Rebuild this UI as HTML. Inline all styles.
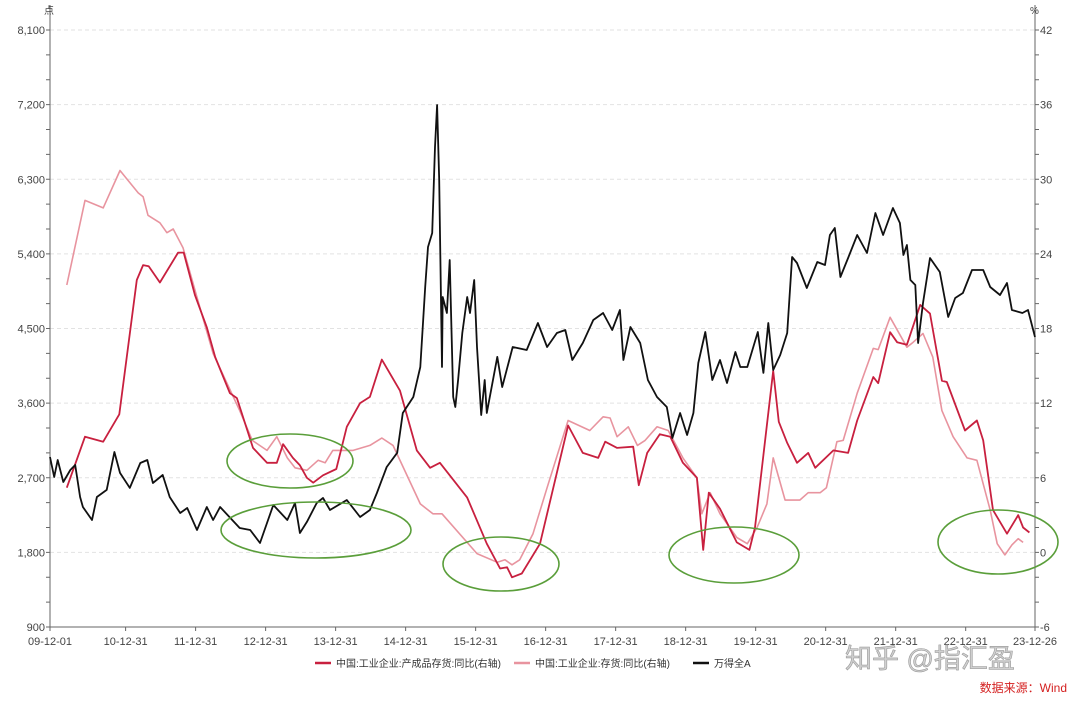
<!DOCTYPE html>
<html><head><meta charset="utf-8">
<style>
html,body{margin:0;padding:0;background:#fff;}
body{width:1080px;height:701px;overflow:hidden;font-family:"Liberation Sans","Noto Sans CJK SC",sans-serif;}
svg text{font-family:"Liberation Sans","Noto Sans CJK SC",sans-serif;}
</style></head>
<body>
<svg id="chart" width="1080" height="701" xmlns="http://www.w3.org/2000/svg">
<g id="grid"></g>
<g id="axes"></g>
<g id="series"></g>
<g id="notes">
<ellipse cx="290" cy="461" rx="63" ry="27" fill="none" stroke="#5a9e3a" stroke-width="1.6"/>
<ellipse cx="316" cy="530" rx="95" ry="28" fill="none" stroke="#5a9e3a" stroke-width="1.6"/>
<ellipse cx="501" cy="564" rx="58" ry="27" fill="none" stroke="#5a9e3a" stroke-width="1.6"/>
<ellipse cx="734" cy="555" rx="65" ry="28" fill="none" stroke="#5a9e3a" stroke-width="1.6"/>
<ellipse cx="998" cy="542" rx="60" ry="32" fill="none" stroke="#5a9e3a" stroke-width="1.6"/>
</g>
<g font-size="10" fill="#333">
<line x1="315" y1="663" x2="331" y2="663" stroke="#c8203f" stroke-width="2.5"/>
<text x="336" y="667">中国:工业企业:产成品存货:同比(右轴)</text>
<line x1="514" y1="663" x2="530" y2="663" stroke="#e8949f" stroke-width="2.5"/>
<text x="535" y="667">中国:工业企业:存货:同比(右轴)</text>
<line x1="693" y1="663" x2="709" y2="663" stroke="#111" stroke-width="2.5"/>
<text x="714" y="667">万得全A</text>
</g>
<text x="845" y="668" font-size="27" fill="#d0d0d0" stroke="#999" stroke-width="0.6">知乎 @指汇盈</text>
<text x="1067" y="692" font-size="12" fill="#d42020" text-anchor="end">数据来源：Wind</text>
</svg>
<script>
const leftTicks=[900,1800,2700,3600,4500,5400,6300,7200,8100];
const rightTicks=[-6,0,6,12,18,24,30,36,42];
const xTickYears=[2009.92,2011.0,2012.0,2013.0,2014.0,2015.0,2016.0,2017.0,2018.0,2019.0,2020.0,2021.0,2022.0,2023.0,2023.99];
const xTickLabels=['09-12-01','10-12-31','11-12-31','12-12-31','13-12-31','14-12-31','15-12-31','16-12-31','17-12-31','18-12-31','19-12-31','20-12-31','21-12-31','22-12-31','23-12-26'];

const fgDates=[2010.16,2010.42,2010.68,2010.91,2011.16,2011.25,2011.33,2011.49,2011.75,2011.83,2011.99,2012.16,2012.28,2012.49,2012.59,2012.82,2013.02,2013.16,2013.25,2013.39,2013.49,2013.59,2013.68,2013.82,2014.01,2014.16,2014.35,2014.49,2014.66,2014.92,2015.16,2015.35,2015.49,2015.88,2016.16,2016.35,2016.45,2016.52,2016.66,2016.92,2017.32,2017.53,2017.75,2017.85,2018.02,2018.25,2018.33,2018.45,2018.63,2018.78,2018.96,2019.16,2019.25,2019.33,2019.49,2019.73,2019.91,2019.99,2020.25,2020.33,2020.45,2020.59,2020.75,2020.85,2021.11,2021.32,2021.45,2021.68,2021.75,2021.92,2022.02,2022.16,2022.35,2022.49,2022.66,2022.73,2022.99,2023.16,2023.25,2023.39,2023.59,2023.75,2023.82,2023.91];
const fgValues=[5.2,9.3,8.9,11.1,21.9,23.1,23.0,21.7,24.1,24.1,20.7,18.1,15.7,12.8,12.4,8.4,7.2,7.2,8.7,7.6,7.0,6.0,5.6,6.2,6.7,10.1,12.0,12.5,15.5,13.0,8.2,6.8,7.2,4.4,0.7,-1.3,-1.2,-2.0,-1.7,0.7,10.2,8.0,7.6,8.9,8.4,8.5,5.4,8.0,9.5,9.3,7.2,6.0,0.2,4.8,3.5,0.8,0.2,2.0,14.6,10.5,8.8,7.2,8.0,6.8,8.2,8.0,10.6,14.1,13.6,17.7,16.9,16.7,19.9,19.2,13.8,13.7,9.8,10.6,9.0,3.4,1.5,3.0,2.0,1.6];

const invDates=[2010.16,2010.42,2010.68,2010.92,2011.18,2011.25,2011.32,2011.49,2011.59,2011.68,2011.82,2012.02,2012.25,2012.63,2012.81,2013.02,2013.16,2013.31,2013.42,2013.59,2013.75,2013.85,2013.96,2014.25,2014.49,2014.66,2014.82,2015.21,2015.39,2015.52,2016.02,2016.31,2016.42,2016.52,2016.63,2016.82,2017.02,2017.32,2017.63,2017.82,2017.92,2018.02,2018.18,2018.31,2018.42,2018.59,2018.75,2018.96,2019.16,2019.23,2019.35,2019.49,2019.73,2019.88,2020.02,2020.16,2020.25,2020.42,2020.63,2020.75,2020.92,2021.01,2021.16,2021.25,2021.45,2021.68,2021.75,2021.92,2022.16,2022.25,2022.39,2022.53,2022.66,2022.82,2023.02,2023.16,2023.35,2023.45,2023.56,2023.66,2023.75,2023.82];
const invValues=[21.5,28.3,27.7,30.7,28.9,28.6,27.1,26.5,25.7,26.0,24.5,20.5,16.0,11.4,9.0,8.2,9.3,7.6,6.8,6.6,7.4,7.2,8.2,8.2,8.6,9.2,8.6,3.9,3.1,3.1,-0.1,-0.8,-0.6,-1.0,-0.6,1.5,5.2,10.6,9.8,10.9,10.8,9.3,10.1,8.6,9.0,10.1,9.8,7.6,6.0,3.1,4.8,3.1,1.2,0.7,2.0,3.9,7.6,4.2,4.2,4.8,4.8,5.2,8.9,9.0,12.8,16.4,16.3,18.9,16.5,16.9,17.6,15.7,11.4,9.3,7.6,7.4,3.4,0.7,-0.2,0.6,1.1,0.8];

const idxDates=[2009.92,2009.98,2010.03,2010.11,2010.21,2010.28,2010.35,2010.39,2010.52,2010.59,2010.73,2010.84,2010.92,2011.06,2011.21,2011.31,2011.39,2011.53,2011.63,2011.78,2011.88,2012.02,2012.16,2012.25,2012.35,2012.63,2012.78,2012.92,2013.11,2013.31,2013.42,2013.49,2013.59,2013.73,2013.82,2013.92,2014.16,2014.35,2014.49,2014.59,2014.73,2014.88,2014.96,2015.11,2015.21,2015.28,2015.32,2015.38,2015.42,2015.45,2015.48,2015.52,2015.53,2015.59,2015.63,2015.68,2015.71,2015.75,2015.81,2015.88,2015.92,2015.98,2016.02,2016.08,2016.13,2016.16,2016.31,2016.38,2016.53,2016.73,2016.89,2017.02,2017.16,2017.28,2017.38,2017.53,2017.68,2017.82,2017.95,2018.06,2018.11,2018.21,2018.35,2018.46,2018.59,2018.73,2018.81,2018.92,2019.02,2019.11,2019.18,2019.28,2019.38,2019.49,2019.59,2019.71,2019.78,2019.88,2020.03,2020.11,2020.18,2020.25,2020.35,2020.45,2020.52,2020.59,2020.73,2020.88,2020.99,2021.06,2021.13,2021.21,2021.32,2021.45,2021.59,2021.71,2021.82,2021.96,2022.06,2022.11,2022.16,2022.21,2022.28,2022.32,2022.39,2022.49,2022.63,2022.75,2022.85,2022.96,2023.09,2023.25,2023.35,2023.49,2023.59,2023.66,2023.81,2023.89,2023.99];
const idxValues=[2950,2709,2914,2649,2794,2854,2468,2347,2191,2468,2553,3011,2758,2577,2878,2914,2637,2733,2468,2275,2335,2070,2347,2191,2347,2094,2070,1913,2371,2191,2396,2034,2167,2396,2456,2311,2432,2227,2311,2516,2830,3001,3481,3674,4036,5001,5483,5652,6689,7196,6291,4036,4880,4687,5326,3674,3553,3879,4446,4880,4687,5085,4277,3457,3879,3481,4157,3795,4277,4241,4566,4277,4446,4482,4120,4325,4603,4687,4482,4723,4120,4518,4325,3879,3674,3553,3180,3481,3216,3481,4084,4458,3879,4120,3843,4217,4036,4036,4458,3964,4566,4000,4181,4446,5362,5290,4989,5302,5266,5628,5712,5121,5350,5628,5411,5893,5628,5953,5772,5386,5507,5085,5025,4325,4808,5350,5181,4639,4868,4928,5206,5206,5001,4904,5049,4723,4687,4723,4398];

const NS='http://www.w3.org/2000/svg';
const X0=50,X1=1035,Y0=627,Y1=30,T0=2009.92,T1=2023.99;
function xs(t){return X0+(t-T0)/(T1-T0)*(X1-X0);}
function yl(v){return Y0-(v-900)/(8100-900)*(Y0-Y1);}
function yr(v){return Y0-(v+6)/48*(Y0-Y1);}
function mk(tag,attrs,parent){const e=document.createElementNS(NS,tag);for(const k in attrs)e.setAttribute(k,attrs[k]);parent.appendChild(e);return e;}
const grid=document.getElementById('grid'),axes=document.getElementById('axes'),series=document.getElementById('series');

leftTicks.forEach((v,i)=>{
  const y=yl(v);
  if(i>0){const g=mk('line',{x1:X0,x2:X1,y1:y,y2:y,stroke:'#e2e2e2','stroke-dasharray':'4,3'},grid);
  
  }
  const t=mk('text',{x:45,y:y+4,'font-size':11,fill:'#444','text-anchor':'end'},axes);t.textContent=v.toLocaleString('en-US');
  
  
});
for(let v=900;v<=8100;v+=300){const y=yl(v);mk('line',{x1:X0-4,x2:X0,y1:y,y2:y,stroke:'#666'},axes);}
rightTicks.forEach(v=>{
  const y=yr(v);
  const t=mk('text',{x:1040,y:y+4,'font-size':11,fill:'#444'},axes);t.textContent=v;
  
  
});
for(let v=-6;v<=42;v+=2){const y=yr(v);mk('line',{x1:X1,x2:X1+4,y1:y,y2:y,stroke:'#666'},axes);}
mk('line',{x1:X0,x2:X0,y1:Y1-25,y2:Y0,stroke:'#666'},axes);
mk('line',{x1:X1,x2:X1,y1:Y1-25,y2:Y0,stroke:'#666'},axes);
mk('line',{x1:X0,x2:X1,y1:Y0,y2:Y0,stroke:'#666'},axes);
const ul=mk('text',{x:44,y:14,'font-size':10,fill:'#444'},axes);ul.textContent='点';


const ur=mk('text',{x:1030,y:14,'font-size':10,fill:'#444'},axes);ur.textContent='%';


xTickYears.forEach((t,i)=>{
  const x=xs(t);
  mk('line',{x1:x,x2:x,y1:Y0,y2:Y0+4,stroke:'#666'},axes);
  const lb=mk('text',{x:x,y:645,'font-size':11,fill:'#444','text-anchor':'middle'},axes);
  lb.textContent=xTickLabels[i];
  
  
});
function line(d,v,yf,color,w,name){
  const p=d.map((t,i)=>(i?'L':'M')+xs(t).toFixed(1)+','+yf(v[i]).toFixed(1)).join(' ');
  const e=mk('path',{d:p,fill:'none',stroke:color,'stroke-width':w,'stroke-linejoin':'round'},series);
  
  
}
line(invDates,invValues,yr,'#e8949f',1.6,'inventory-yoy-line');
line(fgDates,fgValues,yr,'#c8203f',1.8,'finished-goods-yoy-line');
line(idxDates,idxValues,yl,'#111',1.8,'wind-all-a-line');
</script>
</body></html>
